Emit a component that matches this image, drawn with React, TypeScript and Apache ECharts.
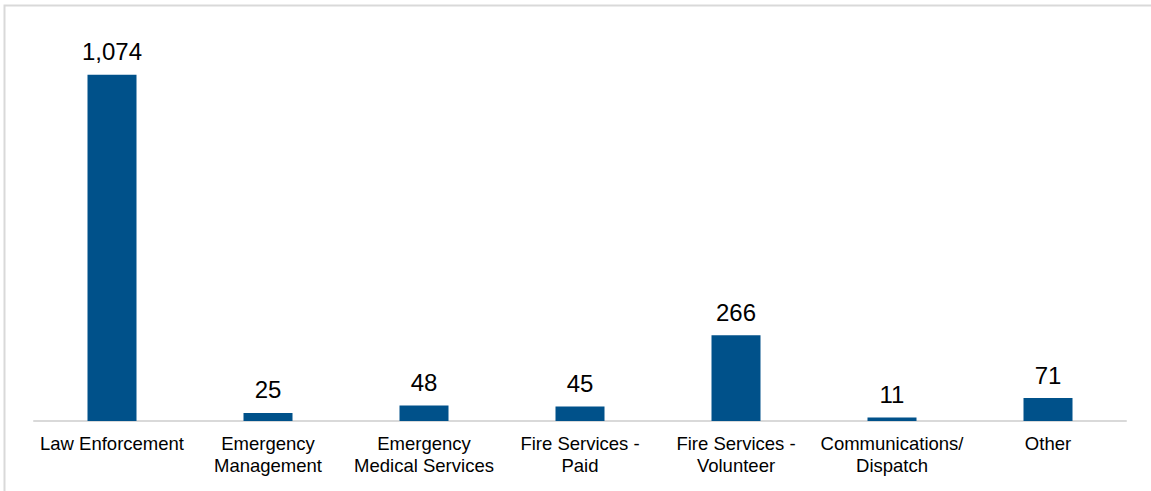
import React, { useEffect, useRef } from "react";
import * as echarts from "echarts";

const categories = [
  "Law Enforcement",
  "Emergency\nManagement",
  "Emergency\nMedical Services",
  "Fire Services -\nPaid",
  "Fire Services -\nVolunteer",
  "Communications/\nDispatch",
  "Other",
];
const values = [1074, 25, 48, 45, 266, 11, 71];

export default function App() {
  const ref = useRef<HTMLDivElement>(null);
  useEffect(() => {
    if (!ref.current) return;
    const chart = echarts.init(ref.current, null, { renderer: "svg" });
    chart.setOption({
      animation: false,
      backgroundColor: "#ffffff",
      textStyle: { fontFamily: "Liberation Sans, Arial, sans-serif" },
      graphic: [
        {
          type: "rect",
          shape: { x: 4.5, y: 5.5, width: 1160, height: 500 },
          style: { fill: "none", stroke: "#d9d9d9", lineWidth: 2 },
          silent: true,
        },
      ],
      grid: { left: 34, right: 25, top: 34, bottom: 70, containLabel: false },
      xAxis: {
        type: "category",
        data: categories,
        axisLine: { show: true, lineStyle: { color: "#d9d9d9", width: 2 } },
        axisTick: { show: false },
        axisLabel: {
          interval: 0,
          color: "#000000",
          fontSize: 18.5,
          lineHeight: 21.5,
          margin: 12,
          fontFamily: "Liberation Sans, Arial, sans-serif",
        },
      },
      yAxis: {
        type: "value",
        min: 0,
        max: 1200,
        show: false,
        splitLine: { show: false },
      },
      series: [
        {
          type: "bar",
          data: values,
          barWidth: 49,
          itemStyle: { color: "#00518a" },
          label: {
            show: true,
            position: "top",
            distance: 11,
            color: "#000000",
            fontSize: 24,
            fontFamily: "Liberation Sans, Arial, sans-serif",
            formatter: (p: any) => Number(p.value).toLocaleString("en-US"),
          },
        },
      ],
    });
    return () => chart.dispose();
  }, []);
  return (
    <div
      ref={ref}
      style={{ position: "absolute", left: 0, top: 0, width: 1151, height: 491 }}
    />
  );
}
